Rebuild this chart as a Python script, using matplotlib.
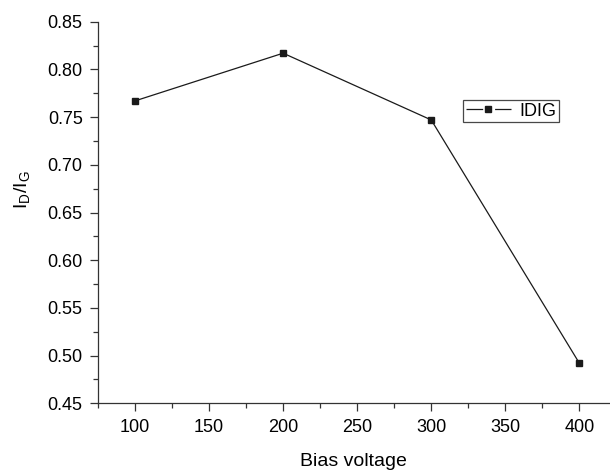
import matplotlib
matplotlib.use("Agg")
import matplotlib.pyplot as plt
from matplotlib.ticker import MultipleLocator
from matplotlib.lines import Line2D

plt.rcParams['font.family'] = ['Liberation Sans', 'DejaVu Sans']

bias = [100, 200, 300, 400]
idig = [0.767, 0.817, 0.747, 0.492]
xticks = [100, 150, 200, 250, 300, 350, 400]

fig = plt.figure(figsize=(6.1, 4.71), dpi=100)
ax = fig.add_axes([98/610, 1-403.3/471, (609-98)/610, (403.3-21.7)/471])

lw = 0.9
ax.plot(bias, idig, color='#1a1a1a', lw=lw, marker='s', ms=5, mfc='#1a1a1a', mec='#1a1a1a')

ax.set_xlim(75, 420)
ax.set_ylim(0.45, 0.85)
ax.set_xticks(xticks)
ax.set_xticklabels([str(v) for v in xticks])
ax.xaxis.set_minor_locator(MultipleLocator(25))
ax.yaxis.set_major_locator(MultipleLocator(0.05))
ax.yaxis.set_minor_locator(MultipleLocator(0.025))
ax.yaxis.set_major_formatter(plt.FormatStrFormatter('%.2f'))

for s in ['top', 'right']:
    ax.spines[s].set_visible(False)
for s in ['left', 'bottom']:
    ax.spines[s].set_linewidth(0.9)
    ax.spines[s].set_color('#333333')

ax.tick_params(which='major', direction='out', length=6, width=0.9, labelsize=13, pad=5, color='#333333')
ax.tick_params(which='minor', direction='out', length=3.5, width=0.9, color='#333333')

ax.set_xlabel('Bias voltage', fontsize=14)
ax.xaxis.set_label_coords(0.5, -(462-403.3)/381.6, transform=ax.transAxes)
ax.xaxis.label.set_va('center')
ax.set_ylabel(r'I$_\mathregular{D}$/I$_\mathregular{G}$', fontsize=14)
ax.yaxis.set_label_coords(-(98-23)/511, (403.3-190)/381.6, transform=ax.transAxes)
ax.yaxis.label.set_va('center')

proxy = Line2D([0], [0], color='#1a1a1a', lw=lw, marker='s', ms=4, mfc='#1a1a1a', mec='#1a1a1a',
               linestyle=(0, (12/lw, 8.6/lw)))
leg = ax.legend([proxy], ['IDIG'], loc='upper left', bbox_to_anchor=(463/610, 1-100/471),
                bbox_transform=fig.transFigure, frameon=True, fancybox=False, edgecolor='#1a1a1a',
                fontsize=13, handlelength=2.5, borderpad=0.15, handletextpad=0.45, borderaxespad=0,
                numpoints=1)
leg.get_frame().set_linewidth(0.9)

fig.savefig('out.png', dpi=100)
